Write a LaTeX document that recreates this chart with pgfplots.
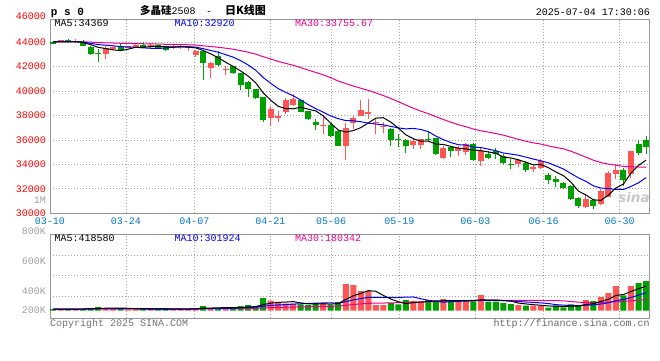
\documentclass[border=0pt]{standalone}
\usepackage{pgfplots}
\pgfplotsset{compat=1.18}
\usepackage{pgfplotstable}
\usepackage{fontspec}
\setmonofont{Liberation Mono}
\newfontfamily\cjk{Noto Sans CJK SC}
\newfontfamily\logofont{DejaVu Sans}
\newcommand{\tf}{\ttfamily\fontsize{10}{12}\selectfont}
\definecolor{upred}{RGB}{255,85,85}
\definecolor{dngreen}{RGB}{0,160,0}
\definecolor{xblue}{RGB}{0,119,204}
\definecolor{gridc}{RGB}{165,165,165}
\definecolor{axc}{RGB}{150,150,150}
\definecolor{volgray}{RGB}{160,160,160}

% candles: index open high low close
\pgfplotstableread{
i o h l c
1 44050 44200 44000 44150
3 44000 44250 43950 44120
7 43000 43700 42600 43500
8 43450 43650 43380 43580
10 43550 43700 43500 43650
11 43580 43850 43550 43800
13 43600 43900 43550 43800
16 43600 43780 43420 43720
17 43580 43750 43450 43700
18 43520 43700 43300 43650
19 42950 43400 42800 43250
21 41920 42400 41070 42320
23 41700 42050 41330 41800
29 37810 38800 37140 38530
30 37810 38400 37500 37970
31 38250 39400 38150 39250
32 38850 39750 38800 39350
36 37150 37850 36500 37220
39 35500 37350 34350 36950
40 37350 38000 36900 37800
41 38000 39250 37950 38450
42 38150 39350 37700 38250
43 37380 37720 36450 37500
44 37050 37450 36550 37130
48 35560 36100 35240 35890
49 35560 36110 35240 36100
52 34500 35500 34420 35320
54 35100 35510 34700 35370
55 35020 35780 34750 35700
57 34290 35370 33880 35100
62 34010 34480 33820 34340
64 33600 33950 33400 33790
65 33730 34420 33600 34280
71 30510 31550 30400 31140
73 30730 31960 30650 31820
74 31330 33460 31330 33320
75 33240 34060 32780 33540
77 33190 35100 32900 35100
}\redtab

\pgfplotstableread{
i o h l c
0 44050 44100 43820 43880
2 44200 44280 43980 44000
4 43980 44150 43650 43700
5 43620 43650 42980 43050
6 43150 43450 42400 43050
9 43700 43850 43350 43380
12 43750 44020 43500 43550
14 43780 43800 43500 43560
15 43650 43680 43250 43380
20 43250 43330 40880 42320
22 42850 43250 42050 42130
24 42050 42050 41390 41520
25 41520 41520 40080 40480
26 40720 40800 39520 40210
27 40210 40210 39330 39410
28 39520 39520 37460 37670
33 39300 39380 38250 38300
34 38350 38400 37650 37750
35 37450 37700 36850 37250
37 37250 37400 36250 36350
38 36700 36800 35480 35500
45 36900 37000 35500 35980
46 36080 36450 35400 36020
47 36000 36100 34900 35500
50 36100 36730 35900 36000
51 36140 36140 34800 34860
53 35430 35450 34640 35100
56 35650 35780 34300 34370
58 34830 35100 34420 34560
59 35100 35370 34480 34830
60 34700 34830 34000 34150
61 34030 34420 33600 34000
63 34150 34290 33390 33550
66 33110 33320 32420 32700
67 32780 33050 32150 32590
68 32510 32590 31960 32040
69 32230 32310 31060 31140
70 31280 31330 30460 30600
72 31060 31140 30320 30600
76 33520 33730 32230 32700
78 35700 35970 34770 34960
79 35970 36330 34880 35430
}\greentab

\pgfplotstableread{
i m5 m10 m30
0 44016 44033 44044
1 44036 44043 44048
2 44026 44038 44046
3 44040 44045 44048
4 43970 44010 44037
5 43804 43910 44003
6 43584 43810 43970
7 43484 43755 43952
8 43376 43708 43936
9 43312 43641 43914
10 43432 43618 43900
11 43582 43583 43892
12 43592 43538 43875
13 43636 43506 43867
14 43672 43492 43851
15 43618 43525 43828
16 43602 43592 43817
17 43632 43612 43806
18 43602 43619 43792
19 43540 43606 43766
20 43328 43473 43708
21 43048 43325 43650
22 42734 43183 43586
23 42364 42983 43511
24 42018 42779 43427
25 41650 42489 43308
26 41228 42138 43180
27 40684 41709 43025
28 39858 41111 42813
29 39260 40639 42629
30 38758 40204 42432
31 38566 39897 42268
32 38554 39619 42113
33 38680 39269 41919
34 38524 38892 41721
35 38380 38569 41528
36 37974 38270 41333
37 37374 37964 41095
38 36814 37747 40826
39 36654 37589 40611
40 36764 37572 40416
41 37010 37492 40238
42 37390 37382 40061
43 37790 37302 39851
44 37826 37240 39637
45 37462 37113 39390
46 36976 36993 39134
47 36426 36908 38860
48 36104 36947 38602
49 35898 36862 38363
50 35902 36682 38153
51 35670 36323 37904
52 35634 36030 37677
53 35476 35790 37454
54 35330 35614 37249
55 35270 35586 37089
56 35172 35421 36895
57 35128 35381 36751
58 35020 35248 36647
59 34912 35121 36524
60 34602 34936 36397
61 34528 34850 36222
62 34376 34752 36055
63 34174 34597 35896
64 33966 34439 35764
65 33992 34297 35665
66 33732 34130 35515
67 33382 33879 35389
68 33080 33627 35274
69 32550 33258 35080
70 31814 32903 34840
71 31502 32617 34597
72 31104 32243 34342
73 31060 32070 34152
74 31496 32023 34025
75 32084 31949 33944
76 32396 31949 33833
77 33296 32200 33820
78 33924 32492 33789
79 34346 32921 33767
}\matab

% volume in thousands
\pgfplotstableread{
i v
1 28
3 28
7 45
8 45
10 22
11 28
13 28
16 28
17 28
18 28
19 45
21 45
23 45
29 168
30 146
31 118
32 118
36 129
39 448
40 431
41 330
42 330
43 95
44 95
48 162
49 146
52 196
54 162
55 162
57 263
62 95
64 84
65 84
71 179
73 230
74 297
75 414
77 414
}\redvol

\pgfplotstableread{
i v
0 28
2 28
4 28
5 45
6 62
9 28
12 28
14 28
15 28
20 78
22 45
24 45
25 78
26 95
27 78
28 213
33 106
34 95
35 129
37 95
38 146
45 129
46 106
47 179
50 179
51 157
53 162
56 157
58 151
59 151
60 129
61 112
63 84
66 50
67 84
68 56
69 106
70 95
72 162
76 258
78 465
79 498
}\greenvol

\pgfplotstableread{
i v5 v10 v30
0 28 28 28
1 28 28 28
2 28 28 28
3 28 28 28
4 28 28 28
5 31.4 29.7 28.6
6 38.2 33.1 29.7
7 41.6 34.8 30.3
8 45 36.5 30.8
9 45 36.5 30.8
10 40.4 35.9 30.6
11 33.6 35.9 30.6
12 30.2 35.9 30.6
13 26.8 35.9 30.6
14 26.8 35.9 30.6
15 28 34.2 30.6
16 28 30.8 30.6
17 28 29.1 30.6
18 28 27.4 30.6
19 31.4 29.1 31.2
20 41.4 34.7 32.9
21 44.8 36.4 33.4
22 48.2 38.1 34
23 51.6 39.8 34.6
24 51.6 41.5 35.1
25 51.6 46.5 36.8
26 61.6 53.2 39
27 68.2 58.2 40.7
28 101.8 76.7 46.9
29 126.4 89 51.5
30 140 95.8 55.5
31 144.6 103.1 58.5
32 152.6 110.4 61.5
33 131.2 116.5 64.1
34 116.6 121.5 66.3
35 113.2 126.6 69.1
36 115.4 130 71.3
37 110.8 131.7 73
38 118.8 125 76.4
39 189.4 153 90.4
40 249.8 181.5 104
41 290 202.7 114.1
42 337 223.9 124.1
43 326.8 222.8 126.4
44 256.2 222.8 128.6
45 195.8 222.8 132
46 151 220.5 134.6
47 120.8 228.9 139.6
48 134.2 230.5 144.1
49 144.4 200.3 147.4
50 154.4 175.1 150.8
51 164.6 157.8 154.5
52 168 144.4 159.6
53 168 151.1 163.5
54 171.2 157.8 167.4
55 167.8 161.1 170.2
56 167.8 166.2 172.2
57 181.2 174.6 178.4
58 179 173.5 176.3
59 176.8 174 175.8
60 170.2 169 175.2
61 161.2 164.5 175
62 127.6 154.4 174.2
63 114.2 146.6 173.5
64 100.8 138.8 173.1
65 91.8 131 171.6
66 79.4 120.3 169
67 77.2 102.4 168.6
68 71.6 92.9 165.6
69 76 88.4 154.2
70 78.2 85 143
71 104 91.7 138
72 119.6 98.4 132.4
73 154.4 113 136.9
74 192.6 134.3 143.6
75 256.4 167.3 153.1
76 272.2 188.1 158.2
77 322.6 221.1 166
78 369.6 262 176.1
79 409.8 301.2 187.9
}\vmatab

\pgfplotsset{
  sinaaxis/.style={
    scale only axis, anchor=south west,
    xmin=-0.4, xmax=79.4,
    scaled x ticks=false, scaled y ticks=false,
    xtick={-0.4,9.72,18.83,28.95,37.04,46.15,56.26,65.37,75.49},
    xmajorgrids, ymajorgrids,
    grid style={gridc, line width=0.8pt, dash pattern=on 1pt off 2pt},
    axis line style={axc, line width=1pt},
    major tick length=0pt,
    tick label style={font=\tf},
  }
}

\begin{document}
\begin{tikzpicture}
\useasboundingbox (0pt,0pt) rectangle (660pt,360pt);

% ---------- price panel ----------
\begin{axis}[sinaaxis,
  at={(50pt,146.7pt)}, width=599pt, height=194.3pt,
  ymin=30000, ymax=45900,
  xticklabels={03-10,03-24,04-07,04-21,05-06,05-19,06-03,06-16,06-30},
  ytick={30000,32000,34000,36000,38000,40000,42000,44000},
  yticklabels={30000,32000,34000,36000,38000,40000,42000,44000},
  yticklabel style={text=red, inner sep=0pt, xshift=-4pt},
  xticklabel style={text=xblue, inner sep=0pt, yshift=-4pt},
]
% wicks
\addplot[draw=none, mark=none, forget plot, error bars/.cd, y dir=plus, y explicit, error mark=none,
  error bar style={draw=upred, line width=1pt}]
  table[x=i, y=l, y error plus expr={\thisrow{h}-\thisrow{l}}] {\redtab};
\addplot[draw=none, mark=none, forget plot, error bars/.cd, y dir=plus, y explicit, error mark=none,
  error bar style={draw=dngreen, line width=1pt}]
  table[x=i, y=l, y error plus expr={\thisrow{h}-\thisrow{l}}] {\greentab};
% bodies
\addplot[draw=none, mark=none, forget plot, error bars/.cd, y dir=plus, y explicit, error mark=none,
  error bar style={draw=upred, line width=6pt}]
  table[x=i, y=o, y error plus expr={\thisrow{c}-\thisrow{o}}] {\redtab};
\addplot[draw=none, mark=none, forget plot, error bars/.cd, y dir=plus, y explicit, error mark=none,
  error bar style={draw=dngreen, line width=6pt}]
  table[x=i, y=c, y error plus expr={\thisrow{o}-\thisrow{c}}] {\greentab};
% moving averages
\addplot[magenta, line width=1pt, mark=none] table[x=i, y=m30] {\matab};
\addplot[blue, line width=1pt, mark=none] table[x=i, y=m10] {\matab};
\addplot[black, line width=1pt, mark=none] table[x=i, y=m5] {\matab};
\end{axis}

% ---------- volume panel ----------
\begin{axis}[sinaaxis,
  at={(50pt,41.7pt)}, width=599pt, height=84pt,
  ymin=-128, ymax=1284,
  xticklabels={}, ytick={247,591,935}, yticklabels={},
]
\addplot[ybar, bar width=6pt, bar shift=0pt, fill=upred, draw=none] table[x=i, y=v] {\redvol};
\addplot[ybar, bar width=6pt, bar shift=0pt, fill=dngreen, draw=none] table[x=i, y=v] {\greenvol};
\addplot[magenta, line width=1pt, mark=none] table[x=i, y=v30] {\vmatab};
\addplot[blue, line width=1pt, mark=none] table[x=i, y=v10] {\vmatab};
\addplot[black, line width=1pt, mark=none] table[x=i, y=v5] {\vmatab};
\end{axis}

% ---------- texts ----------
\node[anchor=base west, inner sep=0pt] at (50.7pt,345pt) {\ttfamily\bfseries\fontsize{11}{12}\selectfont p s 0};
\node[anchor=base west, inner sep=0pt] at (140pt,346pt) {{\cjk\bfseries\fontsize{10.5}{12}\selectfont 多晶硅}{\tf 2508}};
\node[anchor=base west, inner sep=0pt] at (206pt,346pt) {\tf -};
\node[anchor=base west, inner sep=0pt] at (225pt,346pt) {\cjk\bfseries\fontsize{11}{12}\selectfont 日K线图};
\node[anchor=base west, inner sep=0pt] at (535.7pt,345pt) {\tf 2025-07-04 17:30:06};

\node[anchor=base west, inner sep=0pt] at (54.3pt,333.3pt) {\tf MA5:34369};
\node[anchor=base west, inner sep=0pt, text=blue] at (174.3pt,333.3pt) {\tf MA10:32920};
\node[anchor=base west, inner sep=0pt, text=magenta] at (295pt,333.3pt) {\tf MA30:33755.67};

\node[anchor=east, inner sep=0pt, text=red] at (46pt,343.3pt) {\tf 46000};

\node[anchor=east, inner sep=0pt, text=volgray] at (46pt,160pt) {\tf 1M};
\node[anchor=east, inner sep=0pt, text=volgray] at (46pt,129.3pt) {\tf 800K};
\node[anchor=east, inner sep=0pt, text=volgray] at (46pt,99.2pt) {\tf 600K};
\node[anchor=east, inner sep=0pt, text=volgray] at (46pt,69.3pt) {\tf 400K};
\node[anchor=east, inner sep=0pt, text=volgray] at (46pt,50pt) {\tf 200K};

\node[anchor=base west, inner sep=0pt] at (54.3pt,118.3pt) {\tf MA5:418580};
\node[anchor=base west, inner sep=0pt, text=blue] at (174.3pt,118.3pt) {\tf MA10:301924};
\node[anchor=base west, inner sep=0pt, text=magenta] at (295pt,118.3pt) {\tf MA30:180342};

\node[anchor=base west, inner sep=0pt, text=black!55] at (50pt,34pt) {\tf Copyright 2025 SINA.COM};
\node[anchor=base west, inner sep=0pt, text=black!60] at (493.3pt,33.3pt) {\tf http://finance.sina.com.cn};

\node[inner sep=0pt, text=black!22] at (634pt,163pt) {\logofont\bfseries\itshape\fontsize{13.5}{14}\selectfont sina};
\end{tikzpicture}
\end{document}
